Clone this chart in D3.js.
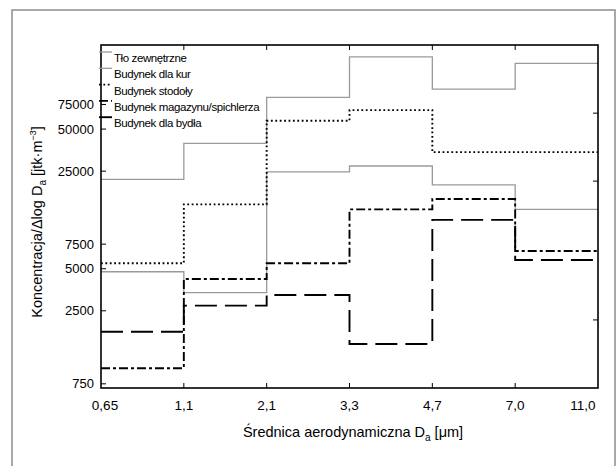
<!DOCTYPE html>
<html>
<head>
<meta charset="utf-8">
<script src="https://cdn.jsdelivr.net/npm/d3@7"></script>
<style>
    body { margin: 0; background: #fff; }
    text { font-family: "Liberation Sans", Arial, sans-serif; fill: #000; }
</style>
</head>
<body>
<script>
// bin edges of the aerodynamic diameter
var edges = ["0,65", "1,1", "2,1", "3,3", "4,7", "7,0", "11,0"];

var seriesNames = ["Tło zewnętrzne", "Budynek dla kur", "Budynek stodoły",
    "Budynek magazynu/spichlerza", "Budynek dla bydła"];

// values per bin (6 bins)
var tloValues = [4760, 3370, 24700, 27200, 19900, 13300];
var kurValues = [21800, 39500, 84300, 164700, 96700, 147700];
var stodolyValues = [5470, 14450, 57300, 68400, 34200, 34200];
var magazynValues = [970, 4220, 5470, 13300, 15800, 6700];
var bydloValues = [1770, 2720, 3240, 1445, 11200, 5770];

var yTickValues = [750, 2500, 5000, 7500, 25000, 50000, 75000];
var rightTickValues = [2150, 21200, 65000];

var series = [
    {name: seriesNames[0], values: tloValues, color: "#9a9a9a", width: 1.3, dash: null},
    {name: seriesNames[1], values: kurValues, color: "#9a9a9a", width: 1.3, dash: null},
    {name: seriesNames[2], values: stodolyValues, color: "#000", width: 1.9, dash: "1.8,2.6"},
    {name: seriesNames[3], values: magazynValues, color: "#000", width: 1.9, dash: "9,3,3,3"},
    {name: seriesNames[4], values: bydloValues, color: "#000", width: 1.9, dash: "22,8"}
];

var svg = d3.select("body").append("svg")
    .attr("width", 616)
    .attr("height", 466);

// outer frame of the figure
svg.append("rect")
    .attr("x", 12).attr("y", 10)
    .attr("width", 603).attr("height", 480)
    .attr("fill", "none")
    .attr("stroke", "#8c8c8c")
    .attr("stroke-width", 1.5);

var margin = {left: 101, top: 45, right: 598, bottom: 388};

var x = d3.scalePoint()
    .domain(edges)
    .range([margin.left, margin.right]);

var y = d3.scaleLog()
    .domain([700, 200000])
    .range([margin.bottom, margin.top]);

var g = svg.append("g");

// step lines
var line = d3.line()
    .curve(d3.curveStepAfter)
    .x(function (d) { return x(d.edge); })
    .y(function (d) { return y(d.value); });

g.selectAll(".series")
    .data(series)
    .enter().append("path")
    .attr("class", "series")
    .attr("fill", "none")
    .attr("stroke", function (d) { return d.color; })
    .attr("stroke-width", function (d) { return d.width; })
    .attr("stroke-dasharray", function (d) { return d.dash; })
    .attr("d", function (d) {
        var pts = d.values.map(function (v, i) {
            return {edge: edges[i], value: v};
        });
        pts.push({edge: edges[edges.length - 1], value: d.values[d.values.length - 1]});
        return line(pts);
    });

// ticks, pointing inward
var tickLen = 5;
var innerEdges = edges.slice(1, edges.length - 1);

g.selectAll(".xtick-b")
    .data(innerEdges)
    .enter().append("line")
    .attr("x1", function (d) { return x(d); })
    .attr("x2", function (d) { return x(d); })
    .attr("y1", margin.bottom)
    .attr("y2", margin.bottom - tickLen)
    .attr("stroke", "#000");

g.selectAll(".xtick-t")
    .data(innerEdges)
    .enter().append("line")
    .attr("x1", function (d) { return x(d); })
    .attr("x2", function (d) { return x(d); })
    .attr("y1", margin.top)
    .attr("y2", margin.top + tickLen)
    .attr("stroke", "#000");

g.selectAll(".ytick")
    .data(yTickValues)
    .enter().append("line")
    .attr("x1", margin.left)
    .attr("x2", margin.left + tickLen)
    .attr("y1", function (d) { return y(d); })
    .attr("y2", function (d) { return y(d); })
    .attr("stroke", "#000");

g.selectAll(".ytick-r")
    .data(rightTickValues)
    .enter().append("line")
    .attr("x1", margin.right)
    .attr("x2", margin.right - tickLen)
    .attr("y1", function (d) { return y(d); })
    .attr("y2", function (d) { return y(d); })
    .attr("stroke", "#000");

// plot frame
g.append("rect")
    .attr("x", margin.left).attr("y", margin.top)
    .attr("width", margin.right - margin.left)
    .attr("height", margin.bottom - margin.top)
    .attr("fill", "none")
    .attr("stroke", "#000")
    .attr("stroke-width", 1.6);

// tick labels
g.selectAll(".ylabel")
    .data(yTickValues)
    .enter().append("text")
    .attr("x", margin.left - 7)
    .attr("y", function (d) { return y(d); })
    .attr("dy", "0.35em")
    .attr("text-anchor", "end")
    .style("font-size", "13px")
    .text(function (d) { return d; });

g.selectAll(".xlabel")
    .data(edges)
    .enter().append("text")
    .attr("x", function (d, i) {
        if (i === 0) return x(d) + 4;
        if (i === edges.length - 1) return x(d) - 15;
        return x(d);
    })
    .attr("y", margin.bottom + 22)
    .attr("text-anchor", "middle")
    .style("font-size", "13.5px")
    .text(function (d) { return d; });

// axis titles
var xt = svg.append("text")
    .attr("x", 353)
    .attr("y", 437)
    .attr("text-anchor", "middle")
    .style("font-size", "14.5px");
xt.append("tspan").text("Średnica aerodynamiczna D");
xt.append("tspan").attr("dy", 4).style("font-size", "10px").text("a");
xt.append("tspan").attr("dy", -4).text(" [μm]");

var yt = svg.append("text")
    .attr("transform", "translate(42,222) rotate(-90)")
    .attr("text-anchor", "middle")
    .style("font-size", "14.5px");
yt.append("tspan").text("Koncentracja/Δlog D");
yt.append("tspan").attr("dy", 4).style("font-size", "10px").text("a");
yt.append("tspan").attr("dy", -4).text(" [jtk·m");
yt.append("tspan").attr("dy", -6).style("font-size", "9px").text("−3");
yt.append("tspan").attr("dy", 6).text("]");

// legend
var legend = g.selectAll(".legend")
    .data(series)
    .enter().append("g")
    .attr("class", "legend")
    .attr("transform", function (d, i) {
        return "translate(0," + (58 + i * 16.3) + ")";
    });

legend.append("line")
    .attr("x1", 99).attr("x2", 112)
    .attr("y1", -6).attr("y2", -6)
    .attr("stroke", function (d) { return d.color; })
    .attr("stroke-width", function (d) { return d.width; })
    .attr("stroke-dasharray", function (d) { return d.dash; });

legend.append("text")
    .attr("x", 114)
    .attr("dy", "0.35em")
    .style("font-size", "11.5px")
    .style("letter-spacing", "-0.4px")
    .text(function (d) { return d.name; });
</script>
</body>
</html>
